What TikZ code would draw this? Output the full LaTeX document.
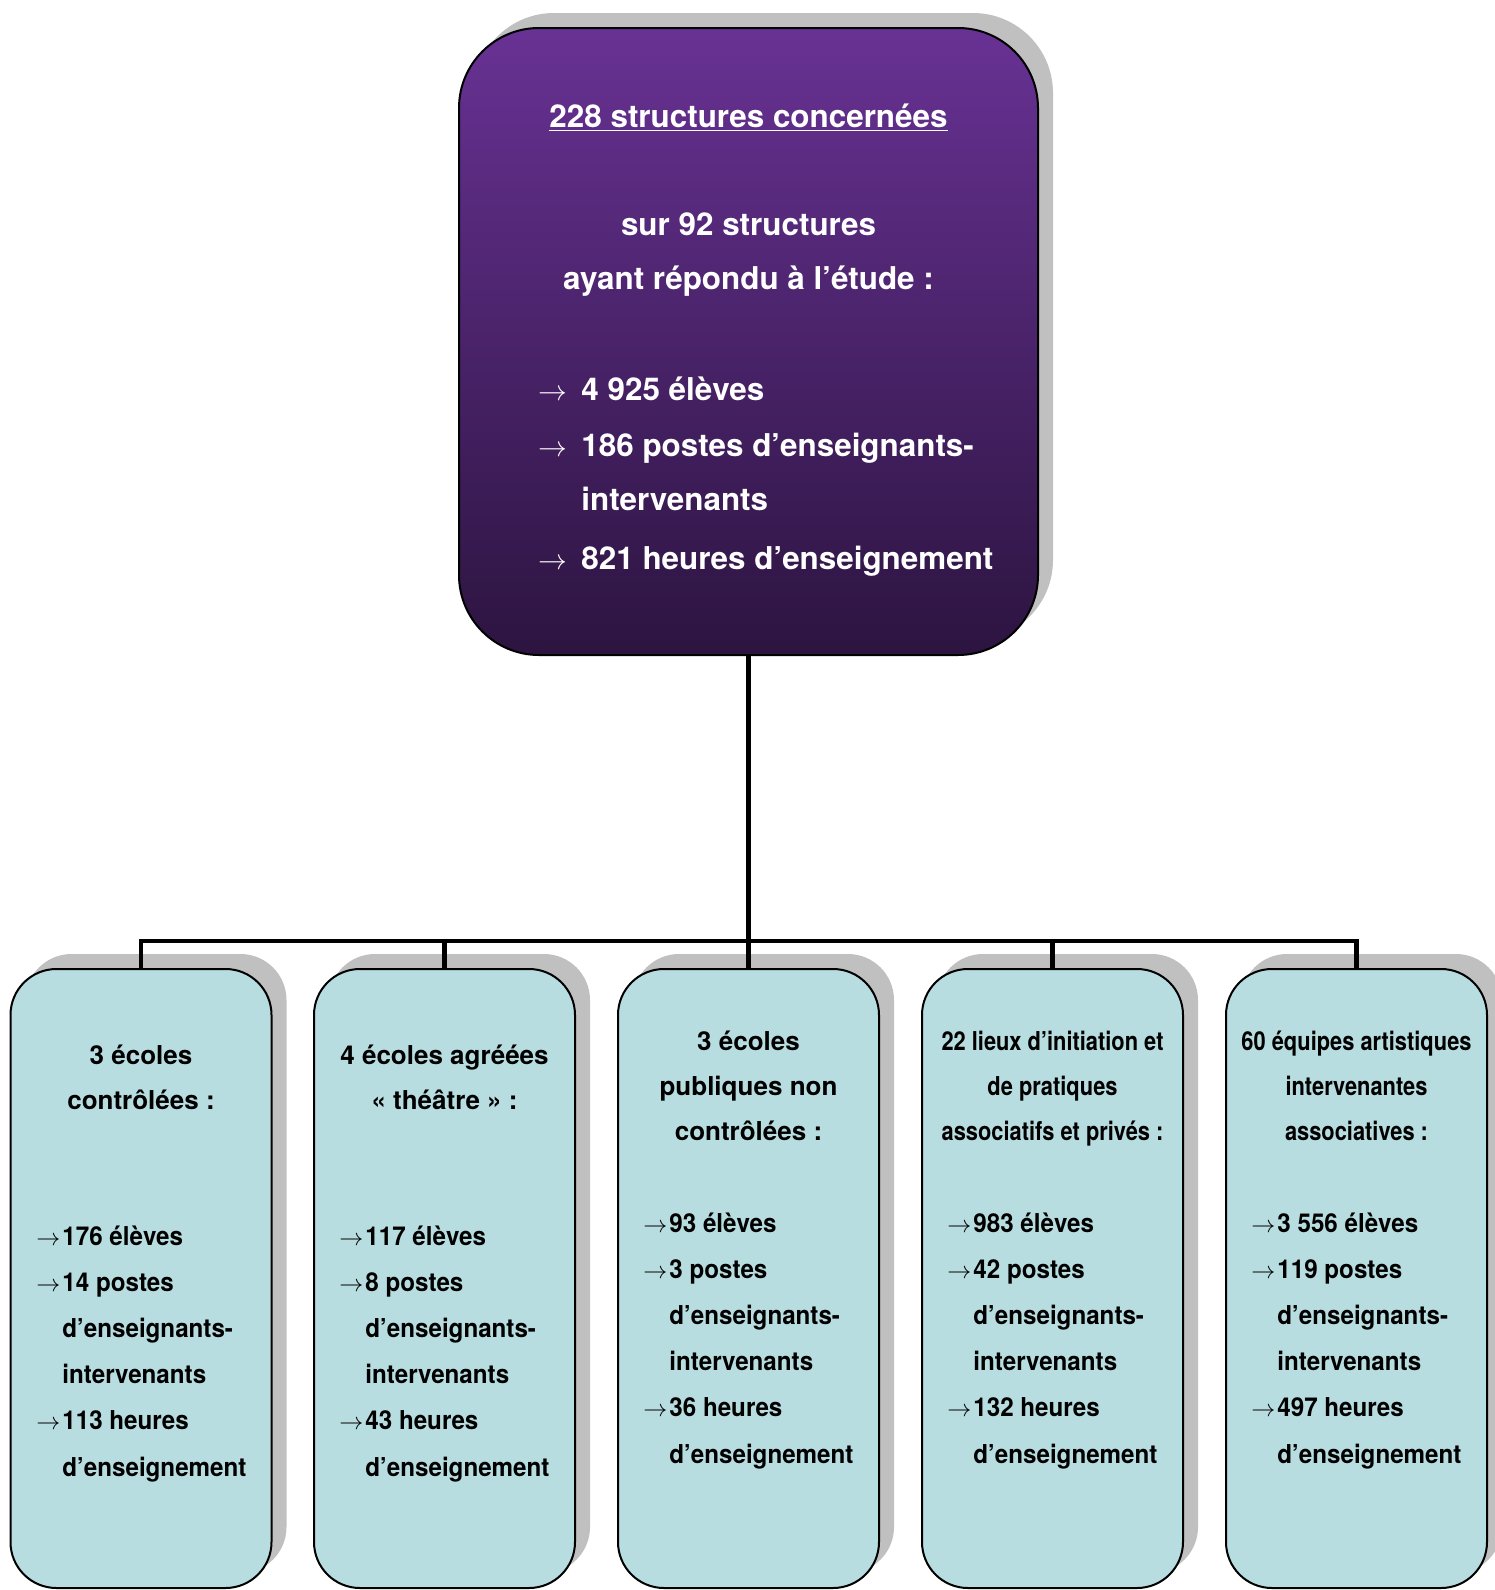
\documentclass[tikz,border=0pt]{standalone}
\usepackage{fontspec}
\setmainfont{TeX Gyre Heros}
\newfontfamily\slimfont{TeX Gyre Heros}[FakeStretch=0.93]
\newfontfamily\narrowfont{TeX Gyre Heros}[FakeStretch=0.84]
\usepackage{xcolor}
\usetikzlibrary{positioning,shadows}
\definecolor{topviolet}{RGB}{104,50,148}
\definecolor{botviolet}{RGB}{44,20,64}
\definecolor{boxcyan}{RGB}{183,221,224}
\definecolor{shadowgray}{RGB}{192,192,192}
\newcommand{\arw}{\llap{$\rightarrow$\hspace{1pt}}}
\newcommand{\bigarw}{\llap{$\rightarrow$\hspace{7pt}}}
\tikzset{
    mainbox/.style={
        draw,
        line width=1pt,
        rounded corners=40pt,
        top color=topviolet,
        bottom color=botviolet,
        minimum width=289.5pt,
        minimum height=313.5pt,
        drop shadow={shadow xshift=7.5pt, shadow yshift=7.5pt, fill=shadowgray, opacity=1}
    },
    subbox/.style={
        draw,
        line width=1pt,
        rounded corners=23pt,
        fill=boxcyan,
        minimum width=130.5pt,
        minimum height=309.5pt,
        drop shadow={shadow xshift=7.5pt, shadow yshift=7.5pt, fill=shadowgray, opacity=1}
    },
    conn/.style={draw, line width=2.2pt}
}

\begin{document}
\begin{tikzpicture}[
    x = 0.5pt,
    y = -0.5pt,
    toptext/.style = {text=white, inner sep=0pt, anchor=base, font=\bfseries\fontsize{15.7}{27}\selectfont},
    toplist/.style = {toptext, anchor=base west},
    subtitle/.style = {inner sep=0pt, anchor=base, font=\bfseries\fontsize{13}{22}\selectfont},
    narrowtitle/.style = {subtitle, font=\narrowfont\bfseries\fontsize{13}{22}\selectfont},
    sublist/.style = {inner sep=0pt, anchor=base west, font=\slimfont\bfseries\fontsize{13}{22}\selectfont}
]
\useasboundingbox (0,0) rectangle (1494,1590);

% Main box
\node[mainbox] (top) at (748.5,341.5) {};
\node[toptext] (t1) at (748.5,127) {\underline{228 structures concernées}};
\node[toptext] (t2) at (748.5,235) {sur 92 structures};
\node[toptext] (t3) at (748.5,289) {ayant répondu à l’étude :};
\node[toplist] (t4) at (581,400) {\bigarw 4 925 élèves};
\node[toplist] (t5) at (581,456) {\bigarw 186 postes d’enseignants-};
\node[toplist] (t6) at (581,510) {intervenants};
\node[toplist] (t7) at (581,569) {\bigarw 821 heures d’enseignement};

% Sub boxes
\node[subbox] (b1) at (141,1278.5) {};
\node[subbox] (b2) at (444.5,1278.5) {};
\node[subbox] (b3) at (748.5,1278.5) {};
\node[subbox] (b4) at (1052.5,1278.5) {};
\node[subbox] (b5) at (1356.5,1278.5) {};

% Connectors
\coordinate (bar) at (748.5,941);
\draw[conn] (top.south) -- (bar);
\draw[conn] (b1.north) -- (b1.north |- bar) -- (b5.north |- bar) -- (b5.north);
\draw[conn] (b2.north) -- (b2.north |- bar);
\draw[conn] (b3.north) -- (b3.north |- bar);
\draw[conn] (b4.north) -- (b4.north |- bar);

% Box 1
\node[subtitle] (b1t1) at (141,1064) {3 écoles};
\node[subtitle] (b1t2) at (141,1109) {contrôlées :};
\foreach \txt [count=\i] in {\arw176 élèves, \arw14 postes, d’enseignants-, intervenants, \arw113 heures, d’enseignement}
    \node[sublist] (b1l\i) at (62,{1245+46.2*(\i-1)}) {\txt};

% Box 2
\node[subtitle] (b2t1) at (444.5,1064) {4 écoles agréées};
\node[subtitle] (b2t2) at (444.5,1109) {« théâtre » :};
\foreach \txt [count=\i] in {\arw117 élèves, \arw8 postes, d’enseignants-, intervenants, \arw43 heures, d’enseignement}
    \node[sublist] (b2l\i) at (365,{1245+46.2*(\i-1)}) {\txt};

% Box 3
\node[subtitle] (b3t1) at (748.5,1050) {3 écoles};
\node[subtitle] (b3t2) at (748.5,1095) {publiques non};
\node[subtitle] (b3t3) at (748.5,1140) {contrôlées :};
\foreach \txt [count=\i] in {\arw93 élèves, \arw3 postes, d’enseignants-, intervenants, \arw36 heures, d’enseignement}
    \node[sublist] (b3l\i) at (669,{1232+46.2*(\i-1)}) {\txt};

% Box 4
\node[narrowtitle] (b4t1) at (1052.5,1050) {22 lieux d’initiation et};
\node[narrowtitle] (b4t2) at (1052.5,1095) {de pratiques};
\node[narrowtitle] (b4t3) at (1052.5,1140) {associatifs et privés :};
\foreach \txt [count=\i] in {\arw983 élèves, \arw42 postes, d’enseignants-, intervenants, \arw132 heures, d’enseignement}
    \node[sublist] (b4l\i) at (973,{1232+46.2*(\i-1)}) {\txt};

% Box 5
\node[narrowtitle] (b5t1) at (1356.5,1050) {60 équipes artistiques};
\node[narrowtitle] (b5t2) at (1356.5,1095) {intervenantes};
\node[narrowtitle] (b5t3) at (1356.5,1140) {associatives :};
\foreach \txt [count=\i] in {\arw3 556 élèves, \arw119 postes, d’enseignants-, intervenants, \arw497 heures, d’enseignement}
    \node[sublist] (b5l\i) at (1277,{1232+46.2*(\i-1)}) {\txt};

\end{tikzpicture}
\end{document}
